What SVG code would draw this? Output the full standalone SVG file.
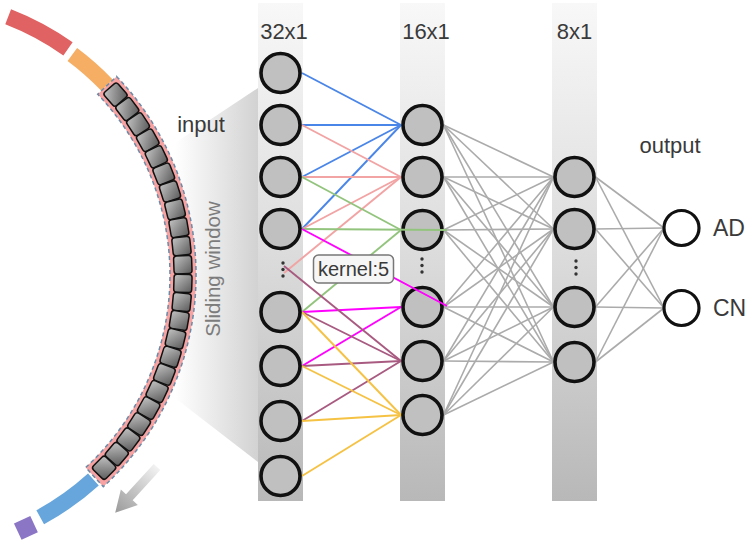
<svg xmlns="http://www.w3.org/2000/svg" xmlns:xlink="http://www.w3.org/1999/xlink" width="750" height="545" viewBox="0 0 750 545">
<defs>
<linearGradient id="barG" x1="0" y1="0" x2="0" y2="1">
<stop offset="0" stop-color="#f8f8f8"/>
<stop offset="0.5" stop-color="#dcdcdc"/>
<stop offset="1" stop-color="#b8b8b8"/>
</linearGradient>
<linearGradient id="fanG" gradientUnits="userSpaceOnUse" x1="175" y1="0" x2="258" y2="0">
<stop offset="0" stop-color="#d2d2d2" stop-opacity="0"/>
<stop offset="1" stop-color="#d2d2d2" stop-opacity="1"/>
</linearGradient>
<linearGradient id="sqG" x1="0" y1="0" x2="1" y2="1">
<stop offset="0" stop-color="#c4c4c4"/>
<stop offset="1" stop-color="#5a5a5a"/>
</linearGradient>
<linearGradient id="arrG" x1="0" y1="0" x2="1" y2="0">
<stop offset="0" stop-color="#f2f2f2"/>
<stop offset="1" stop-color="#9a9a9a"/>
</linearGradient>
<rect id="sq" x="174" y="266" width="18" height="18" rx="3"/>
</defs>
<style>
.bar{fill:url(#barG)}
.n{fill:#c0c0c0;stroke:#111;stroke-width:3.6}
.o{fill:#fff;stroke:#111;stroke-width:3.2}
.t{font-family:"Liberation Sans",Arial,sans-serif;fill:#3a3a3a}
.g{stroke:#ababab;stroke-width:1.6;fill:none}
.c{stroke-width:1.9;fill:none}
.blue{stroke:#4a86e8}
.pink{stroke:#f2a3a3}
.green{stroke:#93c47d}
.mag{stroke:#ff00ff}
.mauve{stroke:#a85a80}
.yel{stroke:#f5c244}
.sq{fill:url(#sqG);stroke:#111;stroke-width:1.5}
.band{fill:none;stroke-width:16}
.dot{fill:#333}
</style>

<!-- sliding window fan -->
<polygon id="fan" points="258,88 258,462 175,398 175,143" fill="url(#fanG)"/>

<!-- layer bars -->
<g id="bars">
<rect class="bar" x="258" y="3" width="45" height="498"/>
<rect class="bar" x="400" y="3" width="45" height="498"/>
<rect class="bar" x="552" y="3" width="45" height="498"/>
</g>

<!-- chromosome arc -->
<g id="sequence">
<circle class="band" cx="-92" cy="275" r="277" stroke="#e06262" pathLength="360" stroke-dasharray="14.1 345.9" transform="rotate(-68.8 -92 275)"/>
<circle class="band" cx="-92" cy="275" r="275" stroke="#f5ae64" pathLength="360" stroke-dasharray="9.7 350.3" transform="rotate(-53.3 -92 275)"/>
<circle class="band" cx="-92" cy="275" r="276" stroke="#66a6dd" pathLength="360" stroke-dasharray="13.6 346.4" transform="rotate(47.8 -92 275)"/>
<rect x="270" y="-9" width="18" height="18" fill="#8b76c6" transform="translate(-92 275) rotate(65)"/>
</g>

<g id="window">
<path d="M116.6,76.4 A288,288 0 0 1 103.3,486.7 L85.7,467.5 A262,262 0 0 0 97.7,94.3 Z" fill="#f7a3a3" stroke="#6a8aa6" stroke-width="1.5" stroke-dasharray="4 3"/>
<g class="sq">
<use href="#sq" transform="rotate(-41 -92 275)"/>
<use href="#sq" transform="rotate(-37.11 -92 275)"/>
<use href="#sq" transform="rotate(-33.23 -92 275)"/>
<use href="#sq" transform="rotate(-29.34 -92 275)"/>
<use href="#sq" transform="rotate(-25.45 -92 275)"/>
<use href="#sq" transform="rotate(-21.57 -92 275)"/>
<use href="#sq" transform="rotate(-17.68 -92 275)"/>
<use href="#sq" transform="rotate(-13.8 -92 275)"/>
<use href="#sq" transform="rotate(-9.91 -92 275)"/>
<use href="#sq" transform="rotate(-6.02 -92 275)"/>
<use href="#sq" transform="rotate(-2.14 -92 275)"/>
<use href="#sq" transform="rotate(1.75 -92 275)"/>
<use href="#sq" transform="rotate(5.64 -92 275)"/>
<use href="#sq" transform="rotate(9.52 -92 275)"/>
<use href="#sq" transform="rotate(13.41 -92 275)"/>
<use href="#sq" transform="rotate(17.3 -92 275)"/>
<use href="#sq" transform="rotate(21.18 -92 275)"/>
<use href="#sq" transform="rotate(25.07 -92 275)"/>
<use href="#sq" transform="rotate(28.95 -92 275)"/>
<use href="#sq" transform="rotate(32.84 -92 275)"/>
<use href="#sq" transform="rotate(36.73 -92 275)"/>
<use href="#sq" transform="rotate(40.61 -92 275)"/>
<use href="#sq" transform="rotate(44.5 -92 275)"/>
</g>
</g>

<g id="arrow" transform="translate(157 467) rotate(132.4)">
<path d="M0,-4.5 L41,-4.5 L41,-11.5 L62,0 L41,11.5 L41,4.5 L0,4.5 Z" fill="url(#arrG)"/>
</g>

<!-- connectors -->
<g id="connectors">
<g class="c blue">
<line x1="302" y1="73" x2="401" y2="125"/>
<line x1="302" y1="125" x2="401" y2="125"/>
<line x1="302" y1="177" x2="401" y2="125"/>
<line x1="302" y1="229" x2="401" y2="125"/>
</g>
<g class="c pink">
<line x1="302" y1="125" x2="401" y2="177"/>
<line x1="302" y1="177" x2="401" y2="177"/>
<line x1="302" y1="229" x2="401" y2="177"/>
<line x1="284" y1="273" x2="401" y2="177"/>
</g>
<g class="c green">
<line x1="302" y1="177" x2="401" y2="230"/>
<line x1="302" y1="312" x2="401" y2="230"/>
</g>
<g class="c mag">
<line x1="302" y1="312" x2="401" y2="307"/>
<line x1="302" y1="366" x2="401" y2="307"/>
</g>
<g class="c mauve">
<line x1="284" y1="266" x2="401" y2="361"/>
<line x1="302" y1="312" x2="401" y2="361"/>
<line x1="302" y1="366" x2="401" y2="361"/>
<line x1="302" y1="421" x2="401" y2="361"/>
</g>
<g class="c yel">
<line x1="302" y1="312" x2="401" y2="415"/>
<line x1="302" y1="366" x2="401" y2="415"/>
<line x1="302" y1="421" x2="401" y2="415"/>
<line x1="302" y1="476" x2="401" y2="415"/>
</g>
<g class="g">
<line x1="443.5" y1="125" x2="553.5" y2="177"/><line x1="443.5" y1="125" x2="553.5" y2="229"/><line x1="443.5" y1="125" x2="553.5" y2="307"/><line x1="443.5" y1="125" x2="553.5" y2="362"/>
<line x1="443.5" y1="177" x2="553.5" y2="177"/><line x1="443.5" y1="177" x2="553.5" y2="229"/><line x1="443.5" y1="177" x2="553.5" y2="307"/><line x1="443.5" y1="177" x2="553.5" y2="362"/>
<line x1="443.5" y1="230" x2="553.5" y2="177"/><line x1="443.5" y1="230" x2="553.5" y2="229"/><line x1="443.5" y1="230" x2="553.5" y2="307"/><line x1="443.5" y1="230" x2="553.5" y2="362"/>
<line x1="443.5" y1="307" x2="553.5" y2="177"/><line x1="443.5" y1="307" x2="553.5" y2="229"/><line x1="443.5" y1="307" x2="553.5" y2="307"/><line x1="443.5" y1="307" x2="553.5" y2="362"/>
<line x1="443.5" y1="361" x2="553.5" y2="177"/><line x1="443.5" y1="361" x2="553.5" y2="229"/><line x1="443.5" y1="361" x2="553.5" y2="307"/><line x1="443.5" y1="361" x2="553.5" y2="362"/>
<line x1="443.5" y1="415" x2="553.5" y2="177"/><line x1="443.5" y1="415" x2="553.5" y2="229"/><line x1="443.5" y1="415" x2="553.5" y2="307"/><line x1="443.5" y1="415" x2="553.5" y2="362"/>
<line x1="595.5" y1="177" x2="664" y2="228"/><line x1="595.5" y1="177" x2="664" y2="308"/>
<line x1="595.5" y1="229" x2="664" y2="228"/><line x1="595.5" y1="229" x2="664" y2="308"/>
<line x1="595.5" y1="307" x2="664" y2="228"/><line x1="595.5" y1="307" x2="664" y2="308"/>
<line x1="595.5" y1="362" x2="664" y2="228"/><line x1="595.5" y1="362" x2="664" y2="308"/>
</g>
</g>

<!-- nodes: input layer 32x1 -->
<g id="layer1">
<circle class="n" cx="280.5" cy="73" r="19.5"/>
<circle class="n" cx="280.5" cy="125" r="19.5"/>
<circle class="n" cx="280.5" cy="177" r="19.5"/>
<circle class="n" cx="280.5" cy="229" r="19.5"/>
<circle class="n" cx="280.5" cy="312" r="19.5"/>
<circle class="n" cx="280.5" cy="366" r="19.5"/>
<circle class="n" cx="280.5" cy="421" r="19.5"/>
<circle class="n" cx="280.5" cy="476" r="19.5"/>
<circle class="dot" cx="283" cy="263" r="1.7"/><circle class="dot" cx="283" cy="269.5" r="1.7"/><circle class="dot" cx="283" cy="276" r="1.7"/>
</g>
<g id="layer2">
<circle class="n" cx="422.5" cy="125" r="19.5"/>
<circle class="n" cx="422.5" cy="177" r="19.5"/>
<circle class="n" cx="422.5" cy="230" r="19.5"/>
<circle class="n" cx="422.5" cy="307" r="19.5"/>
<circle class="n" cx="422.5" cy="361" r="19.5"/>
<circle class="n" cx="422.5" cy="415" r="19.5"/>
<circle class="dot" cx="422" cy="259" r="1.7"/><circle class="dot" cx="422" cy="265.5" r="1.7"/><circle class="dot" cx="422" cy="272" r="1.7"/>
</g>
<g id="layer3">
<circle class="n" cx="574.5" cy="177" r="19.5"/>
<circle class="n" cx="574.5" cy="229" r="19.5"/>
<circle class="n" cx="574.5" cy="307" r="19.5"/>
<circle class="n" cx="574.5" cy="362" r="19.5"/>
<circle class="dot" cx="576" cy="261" r="1.7"/><circle class="dot" cx="576" cy="267.5" r="1.7"/><circle class="dot" cx="576" cy="274" r="1.7"/>
</g>
<g id="out-AD">
<circle class="o" cx="681.5" cy="228" r="17.5"/>
<text class="t" x="713" y="236" font-size="23">AD</text>
</g>
<g id="out-CN">
<circle class="o" cx="681.5" cy="308" r="17.5"/>
<text class="t" x="713" y="316" font-size="23">CN</text>
</g>

<!-- lines drawn over nodes -->
<g id="connectors-over">
<line class="c green" x1="302" y1="229" x2="447" y2="230"/>
<line class="c mag" x1="302" y1="229" x2="447" y2="306"/>
</g>

<g id="kernel-label">
<rect x="313.5" y="255" width="80" height="28" rx="5" fill="#f6f6f6" stroke="#777" stroke-width="1.5"/>
<text class="t" x="353.5" y="276" font-size="20" text-anchor="middle">kernel:5</text>
</g>

<g id="labels">
<text class="t" x="284" y="39" font-size="22" text-anchor="middle">32x1</text>
<text class="t" x="426" y="39" font-size="22" text-anchor="middle">16x1</text>
<text class="t" x="574.5" y="39" font-size="22" text-anchor="middle">8x1</text>
<text class="t" x="201" y="132" font-size="22" text-anchor="middle">input</text>
<text class="t" x="670" y="153" font-size="22" text-anchor="middle">output</text>
<text class="t" x="0" y="0" font-size="20.5" text-anchor="middle" style="fill:#7c7c7c" transform="translate(220 269) rotate(-90)">Sliding window</text>
</g>
</svg>
